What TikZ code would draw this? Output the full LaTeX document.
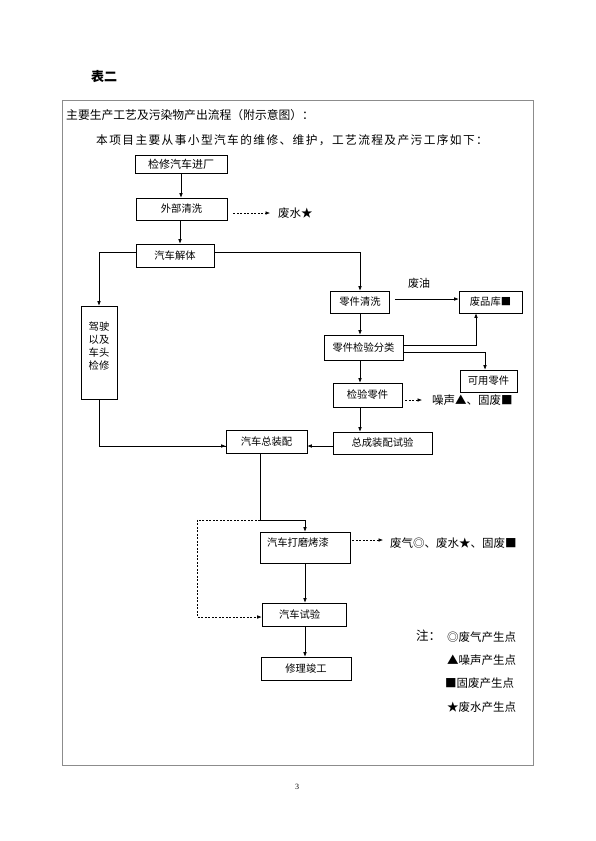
\documentclass[tikz,border=0pt]{standalone}
\usepackage{fontspec}
\setmainfont{Noto Sans CJK SC}
\newfontfamily\cjkwide{Noto Sans CJK SC}[LetterSpace=12]
\newfontfamily\numfont{Liberation Serif}
\usetikzlibrary{arrows.meta,calc}
\begin{document}
\begin{tikzpicture}[x=1pt,y=-1pt,
  box/.style={draw,line width=0.6pt,inner sep=0pt,font=\fontsize{10.3}{12}\selectfont},
  arr/.style={line width=0.6pt,-{Latex[length=4.5pt,width=3.6pt]}},
  ln/.style={line width=0.6pt},
  darr/.style={line width=0.6pt,dash pattern=on 2pt off 1.5pt,-{Latex[length=4.5pt,width=3.6pt]}},
  dln/.style={line width=0.6pt,dash pattern=on 2pt off 1.5pt},
  lab/.style={inner sep=0pt,font=\fontsize{11.5}{13}\selectfont,anchor=west},
  leg/.style={inner sep=0pt,font=\fontsize{11.5}{13}\selectfont,anchor=west}]
\useasboundingbox (0,0) rectangle (595,841);
\fill[white] (0,0) rectangle (595,841);

% title and frame
\node[inner sep=0pt,font=\fontsize{13}{15}\selectfont\bfseries] (title) at (104,77) {表二};
\draw[line width=1pt,draw=black!45] (62,100) rectangle (533,765);
\node[leg,font=\fontsize{11.8}{13}\selectfont] (h1) at (66,115) {主要生产工艺及污染物产出流程（附示意图）：};
\node[leg,font=\cjkwide\fontsize{11.7}{13}\selectfont] (h2) at (96,140) {本项目主要从事小型汽车的维修、维护，工艺流程及产污工序如下：};

% boxes
\node[box,minimum width=92pt,minimum height=18pt,font=\fontsize{11}{12}\selectfont] (b1) at (181,164) {检修汽车进厂};
\node[box,minimum width=91pt,minimum height=22pt] (b2) at (181.5,209) {外部清洗};
\node[box,minimum width=78pt,minimum height=23pt] (b3) at (175,255.5) {汽车解体};
\node[box,minimum width=36pt,minimum height=93pt,align=center,font=\fontsize{10.3}{13}\selectfont] (b4) at (99,352.5) {\raisebox{3pt}[0pt][0pt]{\begin{tabular}{@{}c@{}}驾驶\\以及\\车头\\检修\end{tabular}}};
\node[box,minimum width=59pt,minimum height=22pt] (b5) at (360,302) {零件清洗};
\node[box,minimum width=63pt,minimum height=22pt] (b6) at (490.5,302) {废品库■};
\node[box,minimum width=79pt,minimum height=25pt] (b7) at (363.5,347.5) {零件检验分类};
\node[box,minimum width=57pt,minimum height=22pt] (b8) at (488.5,381) {可用零件};
\node[box,minimum width=69pt,minimum height=24pt] (b9) at (367.5,395) {检验零件};
\node[box,minimum width=99pt,minimum height=22pt] (b10) at (382.5,443) {总成装配试验};
\node[box,minimum width=81pt,minimum height=23pt] (b11) at (266.5,441.5) {汽车总装配};
\node[box,minimum width=90pt,minimum height=31pt,text width=76pt,align=left,inner xsep=7pt] (b12) at (305,547.5) {\raisebox{4.5pt}[0.8em][0.2em]{汽车打磨烤漆}};
\node[box,minimum width=84pt,minimum height=23pt,text width=66pt,align=left,inner xsep=9pt] (b13) at (304,614.5) {\hspace*{8pt}汽车试验};
\node[box,minimum width=90pt,minimum height=23pt] (b14) at (306,668.5) {修理竣工};

% output labels
\node[lab] (w1) at (278,213) {废水★};
\node[lab,font=\fontsize{11}{12}\selectfont] (oil) at (408,283) {废油};
\node[lab] (w2) at (432,400) {噪声▲、固废■};
\node[lab] (w3) at (390,543) {废气◎、废水★、固废■};

% main flow
\draw[arr] (b1.south) -- (b1.south |- b2.north);
\draw[arr] ([xshift=-1.5pt]b2.south) -- ([xshift=-1.5pt]b2.south |- b3.north);
\draw[darr] ([xshift=6pt,yshift=-4pt]b2.east) -- ([xshift=-8pt]w1.west);
\draw[arr] ([yshift=3.5pt]b3.west) -| (b4.north);
\draw[arr] ([yshift=3.5pt]b3.east) -| (b5.north);
\draw[ln] (b4.south) |- ([yshift=-4.5pt]b11.west);
\draw[arr] ([yshift=-4.5pt]b4.south |- b11.west) -- ([yshift=-4.5pt]b11.west);
\draw[arr] ([xshift=5pt,yshift=3pt]b5.east) -- ([yshift=3pt]b6.west);
\draw[arr] (b5.south) -- (b5.south |- b7.north);
\draw[arr] ([yshift=2.5pt]b7.east) -| ([xshift=-14.5pt]b6.south);
\draw[arr] ([yshift=-4.5pt]b7.east) -| ([xshift=-3.5pt]b8.north);
\draw[arr] (b5.south |- b7.south) -- (b5.south |- b9.north);
\draw[darr] ([xshift=3pt,yshift=-5pt]b9.east) -- ([xshift=-10pt,yshift=0pt]w2.west);
\draw[arr] (b5.south |- b9.south) -- (b5.south |- b10.north);
\draw[arr] ([yshift=-3pt]b10.west) -- ([yshift=-3pt]b10.west -| b11.east);

\coordinate (j) at ($([xshift=-6.5pt]b11.south)+(0,66.5)$);
\coordinate (k) at ($(j)+(-63,0)$);
\draw[ln] ([xshift=-6.5pt]b11.south) -- (j);
\draw[arr] (j) -| (b12.north);
\draw[dln] (j) -- (k);
\draw[darr] (k) |- ([yshift=-2.5pt]b13.west);
\draw[arr] (b12.south) -- (b12.south |- b13.north);
\draw[darr] ([xshift=2pt,yshift=7.5pt]b12.east) -- ([xshift=-7pt,yshift=3pt]w3.west);
\draw[arr] ([xshift=1pt]b13.south) -- ([xshift=1pt]b13.south |- b14.north);

% legend
\node[leg,font=\fontsize{12.5}{14}\selectfont] (n0) at (416,636) {注：};
\node[leg] (n1) at (447,637) {◎废气产生点};
\node[leg] (n2) at (447,660) {▲噪声产生点};
\node[leg] (n3) at (445,683) {■固废产生点};
\node[leg] (n4) at (447,707) {★废水产生点};

\node[inner sep=0pt,font=\numfont\fontsize{8}{9}\selectfont] (pg) at (297,787) {3};
\end{tikzpicture}
\end{document}
